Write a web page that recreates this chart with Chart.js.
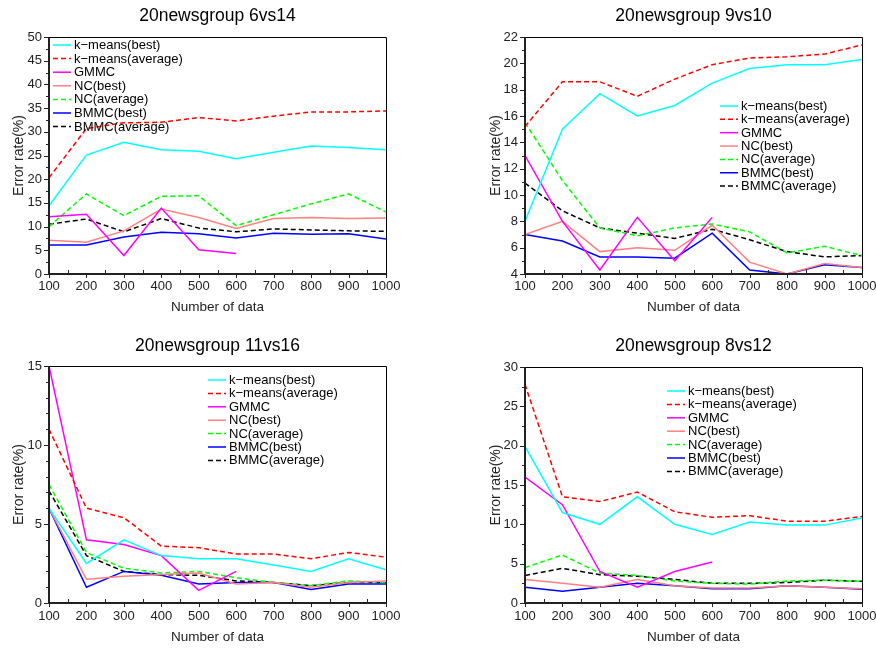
<!DOCTYPE html>
<html>
<head>
<meta charset="utf-8">
<script src="https://cdn.jsdelivr.net/npm/chart.js@4.4.1/dist/chart.umd.min.js"></script>
<style>
  html, body { margin: 0; padding: 0; background: #fff; overflow: hidden; }
  #wrap { position: relative; width: 876px; height: 648px; }
  canvas { position: absolute; }
</style>
</head>
<body>
<div id="wrap">
  <canvas id="c1" width="438" height="324" style="left:0;top:0"></canvas>
  <canvas id="c2" width="438" height="324" style="left:438px;top:0"></canvas>
  <canvas id="c3" width="438" height="324" style="left:0;top:324px"></canvas>
  <canvas id="c4" width="438" height="324" style="left:438px;top:324px"></canvas>
</div>
<script>
// number of data points (x axis)
const xValues = [100, 200, 300, 400, 500, 600, 700, 800, 900, 1000]
const seriesNames = ['k\u2212means(best)', 'k\u2212means(average)', 'GMMC', 'NC(best)', 'NC(average)', 'BMMC(best)', 'BMMC(average)']

// 20newsgroup 6vs14
const p1KmBest = [14.4, 25.1, 27.8, 26.2, 25.9, 24.3, 25.7, 27.0, 26.7, 26.2]
const p1KmAvg = [20.3, 30.7, 31.9, 32.0, 33.0, 32.3, 33.3, 34.2, 34.2, 34.4]
const p1Gmmc = [12.1, 12.6, 3.9, 13.9, 5.1, 4.3]
const p1NcBest = [7.1, 6.7, 9.1, 13.7, 11.9, 9.6, 11.7, 11.9, 11.7, 11.8]
const p1NcAvg = [10.0, 16.9, 12.3, 16.4, 16.5, 10.2, 12.5, 14.8, 16.9, 13.1]
const p1BmmcBest = [6.1, 6.1, 7.8, 8.8, 8.5, 7.6, 8.6, 8.4, 8.5, 7.4]
const p1BmmcAvg = [10.5, 11.6, 8.9, 11.7, 9.7, 8.9, 9.5, 9.3, 9.1, 9.0]

// 20newsgroup 9vs10
const p2KmBest = [8.0, 15.0, 17.7, 16.0, 16.8, 18.5, 19.6, 19.9, 19.9, 20.3]
const p2KmAvg = [15.2, 18.6, 18.6, 17.5, 18.8, 19.9, 20.4, 20.5, 20.7, 21.4]
const p2Gmmc = [13.0, 8.0, 4.3, 8.3, 5.0, 8.3]
const p2NcBest = [7.0, 8.0, 5.7, 6.0, 5.8, 7.7, 4.9, 4.0, 4.8, 4.5]
const p2NcAvg = [15.5, 11.1, 7.5, 6.9, 7.5, 7.8, 7.2, 5.6, 6.1, 5.4]
const p2BmmcBest = [7.0, 6.5, 5.3, 5.3, 5.2, 7.1, 4.3, 4.0, 4.7, 4.5]
const p2BmmcAvg = [10.9, 8.8, 7.5, 7.1, 6.7, 7.4, 6.6, 5.7, 5.3, 5.4]

// 20newsgroup 11vs16
const p3KmBest = [6.0, 2.5, 4.0, 3.0, 2.8, 2.8, 2.4, 2.0, 2.8, 2.1]
const p3KmAvg = [11.0, 6.0, 5.4, 3.6, 3.5, 3.1, 3.1, 2.8, 3.2, 2.9]
const p3Gmmc = [15.0, 4.0, 3.7, 3.0, 0.8, 2.0]
const p3NcBest = [6.0, 1.5, 1.7, 1.8, 1.9, 1.2, 1.3, 1.0, 1.3, 1.4]
const p3NcAvg = [7.5, 3.2, 2.2, 1.9, 2.0, 1.6, 1.3, 1.1, 1.4, 1.3]
const p3BmmcBest = [6.0, 1.0, 2.0, 1.75, 1.2, 1.3, 1.3, 0.85, 1.2, 1.2]
const p3BmmcAvg = [7.1, 3.0, 2.0, 1.8, 1.75, 1.4, 1.3, 1.1, 1.3, 1.3]

// 20newsgroup 8vs12
const p4KmBest = [19.9, 11.5, 10.0, 13.5, 10.0, 8.7, 10.3, 9.9, 9.9, 10.8]
const p4KmAvg = [27.8, 13.5, 12.9, 14.1, 11.6, 10.9, 11.1, 10.4, 10.4, 11.0]
const p4Gmmc = [16.0, 12.5, 4.0, 2.0, 4.0, 5.2]
const p4NcBest = [3.0, 2.5, 2.0, 3.0, 2.2, 1.9, 1.9, 2.2, 2.0, 1.8]
const p4NcAvg = [4.5, 6.1, 3.8, 3.5, 2.8, 2.5, 2.4, 2.8, 2.9, 2.75]
const p4BmmcBest = [2.0, 1.5, 2.0, 2.5, 2.2, 1.8, 1.8, 2.2, 2.0, 1.75]
const p4BmmcAvg = [3.5, 4.4, 3.6, 3.4, 3.0, 2.5, 2.5, 2.6, 2.9, 2.75]

const colors = ['#00ffff', '#ff0000', '#ff00ff', '#ff8080', '#00ff00', '#0000ff', '#000000']
const dashes = [[], [5, 3], [], [], [5, 3], [], [5, 3]]
const FONT = '"Liberation Sans", Arial, sans-serif'

const makeDatasets = function (lists) {
    return lists.map((vals, i) => ({
        label: seriesNames[i],
        data: vals.map((v, j) => ({ x: xValues[j], y: v })),
        borderColor: colors[i],
        backgroundColor: colors[i],
        borderDash: dashes[i],
        borderWidth: 1.5,
        pointRadius: 0,
        tension: 0,
        fill: false
    }))
}

// title, legend, box frame and tick marks
const panelPlugin = {
    id: 'panel',
    afterDatasetsDraw(chart, args, opts) {
        const ctx = chart.ctx
        const a = chart.chartArea
        const xs = chart.scales.x
        const ys = chart.scales.y
        ctx.save()
        // frame
        ctx.strokeStyle = '#000'
        ctx.lineWidth = 1
        ctx.beginPath()
        ctx.moveTo(a.left, a.top + 0.5)
        ctx.lineTo(a.right + 0.5, a.top + 0.5)
        ctx.lineTo(a.right + 0.5, a.bottom)
        ctx.stroke()
        ctx.strokeStyle = '#222'
        ctx.lineWidth = 2
        ctx.beginPath()
        ctx.moveTo(a.left, a.top)
        ctx.lineTo(a.left, a.bottom)
        ctx.lineTo(a.right + 1, a.bottom)
        ctx.stroke()
        // tick marks
        ctx.lineWidth = 1
        ctx.beginPath()
        for (let v = xs.min; v <= xs.max; v += 50) {
            const px = Math.round(xs.getPixelForValue(v)) + 0.5
            if ((v - xs.min) % 100 === 0) {
                ctx.moveTo(px, a.bottom)
                ctx.lineTo(px, a.bottom + 4)
            } else {
                ctx.moveTo(px, a.bottom)
                ctx.lineTo(px, a.bottom - 4)
            }
        }
        const major = opts.yStep
        for (let v = ys.min; v <= ys.max + 1e-6; v += opts.yMinor) {
            const py = Math.round(ys.getPixelForValue(v)) + 0.5
            const isMajor = Math.abs((v - ys.min) / major - Math.round((v - ys.min) / major)) < 1e-6
            ctx.moveTo(a.left, py)
            ctx.lineTo(a.left - (isMajor ? 5 : 3), py)
        }
        ctx.stroke()
        // title
        ctx.fillStyle = '#000'
        ctx.font = '17.5px ' + FONT
        ctx.textAlign = 'center'
        ctx.textBaseline = 'middle'
        ctx.fillText(opts.title, (a.left + a.right) / 2, opts.titleY)
        // legend
        ctx.font = '13px ' + FONT
        ctx.textAlign = 'left'
        chart.data.datasets.forEach((ds, i) => {
            const y = opts.legendY + i * opts.legendGap
            ctx.strokeStyle = ds.borderColor
            ctx.lineWidth = 1.5
            ctx.setLineDash(ds.borderDash)
            ctx.beginPath()
            ctx.moveTo(opts.legendX, y)
            ctx.lineTo(opts.legendX + 18, y)
            ctx.stroke()
            ctx.setLineDash([])
            ctx.fillStyle = '#000'
            ctx.fillText(ds.label, opts.legendX + 21, y + 0.5)
        })
        ctx.restore()
    }
}

const makeChart = function (id, lists, p) {
    return new Chart(document.getElementById(id), {
        type: 'line',
        data: { datasets: makeDatasets(lists) },
        options: {
            responsive: false,
            animation: false,
            layout: { padding: { top: p.top, right: 438 - p.right, bottom: 0, left: 0 } },
            plugins: {
                legend: { display: false },
                tooltip: { enabled: false },
                title: { display: false },
                panel: p
            },
            scales: {
                x: {
                    type: 'linear',
                    min: 100,
                    max: 1000,
                    grid: { display: false, drawTicks: false },
                    border: { display: false },
                    ticks: {
                        stepSize: 100, padding: p.xPad, color: '#222', font: { size: 13, family: FONT },
                        maxRotation: 0, minRotation: 0, autoSkip: false,
                        callback: (v) => String(v)
                    },
                    title: { display: true, text: 'Number of data', color: '#222', font: { size: 13.5, family: FONT }, padding: { top: 0, bottom: p.xTitlePad } },
                    afterFit: (scale) => {
                        scale.height = 324 - p.bottom
                        scale.paddingLeft = 0
                        scale.paddingRight = 0
                    }
                },
                y: {
                    min: p.yMin,
                    max: p.yMax,
                    grid: { display: false, drawTicks: false },
                    border: { display: false },
                    ticks: { stepSize: p.yStep, padding: 7, color: '#222', font: { size: 13, family: FONT } },
                    title: { display: true, text: 'Error rate(%)', color: '#222', font: { size: 14, family: FONT }, padding: { top: p.yTitlePad, bottom: 0 } },
                    afterFit: (scale) => { scale.width = p.left }
                }
            }
        },
        plugins: [panelPlugin]
    })
}

makeChart('c1', [p1KmBest, p1KmAvg, p1Gmmc, p1NcBest, p1NcAvg, p1BmmcBest, p1BmmcAvg], {
    title: '20newsgroup 6vs14', titleY: 16, left: 49, right: 386, top: 37, bottom: 274,
    yMin: 0, yMax: 50, yStep: 5, yMinor: 2.5, xPad: 5, xTitlePad: 9, yTitlePad: 10.5,
    legendX: 53, legendY: 45, legendGap: 13.6
})
makeChart('c2', [p2KmBest, p2KmAvg, p2Gmmc, p2NcBest, p2NcAvg, p2BmmcBest, p2BmmcAvg], {
    title: '20newsgroup 9vs10', titleY: 16, left: 87, right: 424, top: 37, bottom: 274,
    yMin: 4, yMax: 22, yStep: 2, yMinor: 1, xPad: 5, xTitlePad: 9, yTitlePad: 49.5,
    legendX: 282, legendY: 106, legendGap: 13.35
})
makeChart('c3', [p3KmBest, p3KmAvg, p3Gmmc, p3NcBest, p3NcAvg, p3BmmcBest, p3BmmcAvg], {
    title: '20newsgroup 11vs16', titleY: 22, left: 49, right: 386, top: 42, bottom: 279,
    yMin: 0, yMax: 15, yStep: 5, yMinor: 1, xPad: 6, xTitlePad: 3, yTitlePad: 10.5,
    legendX: 208, legendY: 56, legendGap: 13.4
})
makeChart('c4', [p4KmBest, p4KmAvg, p4Gmmc, p4NcBest, p4NcAvg, p4BmmcBest, p4BmmcAvg], {
    title: '20newsgroup 8vs12', titleY: 22, left: 87, right: 424, top: 43, bottom: 279,
    yMin: 0, yMax: 30, yStep: 5, yMinor: 2.5, xPad: 6, xTitlePad: 3, yTitlePad: 49.5,
    legendX: 229, legendY: 67, legendGap: 13.4
})
</script>
</body>
</html>
